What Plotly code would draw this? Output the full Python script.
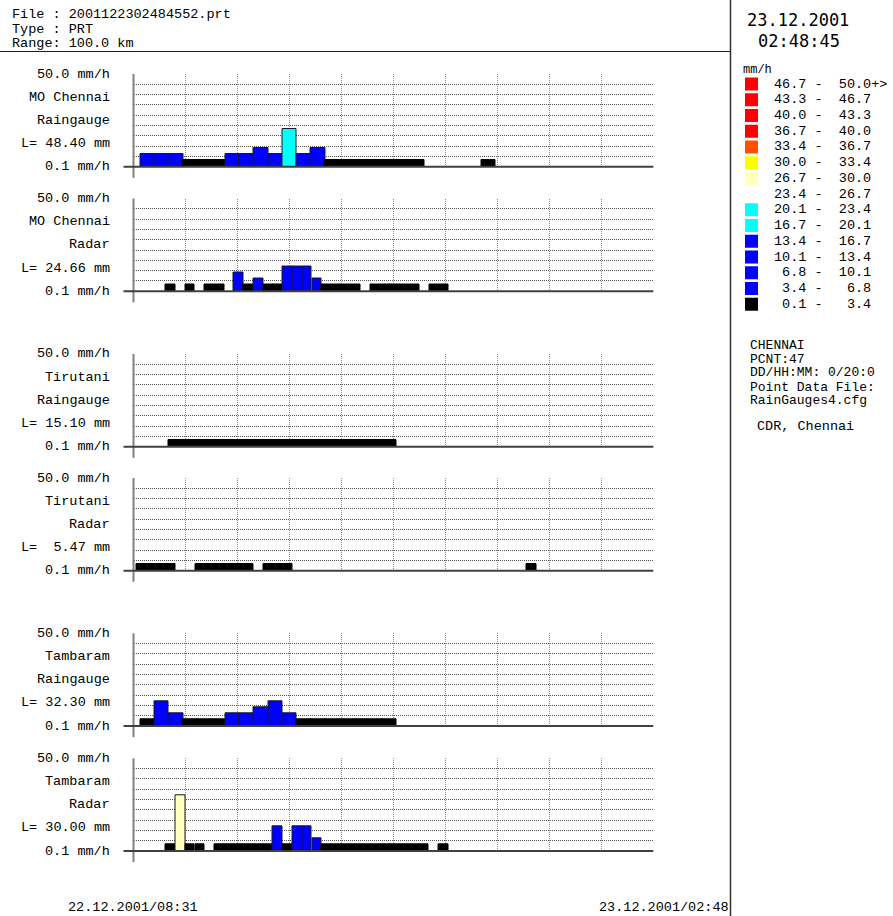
import pandas as pd
import plotly.graph_objects as go

W, H = 893, 916
DAY = "22.12.2001"
AXIS_START = "22.12.2001 08:31"
AXIS_END = "23.12.2001 02:48"
RG_STEP_MIN = 30
RADAR_STEP_MIN = 20

# Legend classes (mm/h), top to bottom
CLASS_LO = [46.7, 43.3, 40.0, 36.7, 33.4, 30.0, 26.7, 23.4, 20.1, 16.7, 13.4, 10.1, 6.8, 3.4, 0.1]
CLASS_HI = [50.0, 46.7, 43.3, 40.0, 36.7, 33.4, 30.0, 26.7, 23.4, 20.1, 16.7, 13.4, 10.1, 6.8, 3.4]
CLASS_COLORS = ["#FF0000", "#FF0000", "#FF0000", "#FF0000", "#FF5000", "#FFFF00", "#FFFFC0",
                "#FFFFFF", "#00FFFF", "#00FFFF", "#0000FF", "#0000FF", "#0000FF", "#0000FF", "#000000"]

PANEL_STATIONS = ["MO Chennai", "MO Chennai", "Tirutani", "Tirutani", "Tambaram", "Tambaram"]
PANEL_SOURCES = ["Raingauge", "Radar", "Raingauge", "Radar", "Raingauge", "Radar"]
PANEL_TOTALS_MM = [48.40, 24.66, 15.10, 5.47, 32.30, 30.00]

# Interval start times (22.12.2001) and intensities (mm/h)
mo_chennai_rg_times = ["08:45", "09:15", "09:45", "10:15", "10:45", "11:15", "11:45", "12:15", "12:45",
                       "13:15", "13:45", "14:15", "14:45", "15:15", "15:45", "16:15", "16:45", "17:15",
                       "17:45", "18:15", "20:45"]
mo_chennai_rg_values = [6.8, 6.8, 6.8, 3.4, 3.4, 3.4, 6.8, 6.8, 10.1, 6.8, 20.1, 6.8, 10.1,
                        3.4, 3.4, 3.4, 3.4, 3.4, 3.4, 3.4, 3.4]

mo_chennai_radar_times = ["09:39", "10:20", "11:01", "11:22", "12:03", "12:24", "12:44", "13:05", "13:25",
                          "13:46", "14:07", "14:27", "14:48", "15:08", "15:29", "15:49", "16:10", "16:51",
                          "17:12", "17:32", "17:53", "18:14", "18:55", "19:15"]
mo_chennai_radar_values = [3.4, 3.4, 3.4, 3.4, 10.1, 3.4, 6.8, 3.4, 3.4, 13.4, 13.4, 13.4, 6.8,
                           3.4, 3.4, 3.4, 3.4, 3.4, 3.4, 3.4, 3.4, 3.4, 3.4, 3.4]

tirutani_rg_times = ["09:45", "10:15", "10:45", "11:15", "11:45", "12:15", "12:45", "13:15", "13:45",
                     "14:15", "14:45", "15:15", "15:45", "16:15", "16:45", "17:15"]
tirutani_rg_values = [3.4] * 16

tirutani_radar_times = ["08:37", "08:58", "09:18", "09:39", "10:41", "11:01", "11:22", "11:42", "12:03",
                        "12:24", "13:05", "13:25", "13:46", "22:20"]
tirutani_radar_values = [3.4] * 14

tambaram_rg_times = ["08:45", "09:15", "09:45", "10:15", "10:45", "11:15", "11:45", "12:15", "12:45",
                     "13:15", "13:45", "14:15", "14:45", "15:15", "15:45", "16:15", "16:45", "17:15"]
tambaram_rg_values = [3.4, 13.4, 6.8, 3.4, 3.4, 3.4, 6.8, 6.8, 10.1, 13.4, 6.8,
                      3.4, 3.4, 3.4, 3.4, 3.4, 3.4, 3.4]

tambaram_radar_times = ["09:39", "10:00", "10:20", "10:41", "11:22", "11:42", "12:03", "12:24", "12:44",
                        "13:05", "13:25", "13:46", "14:07", "14:27", "14:48", "15:08", "15:29", "15:49",
                        "16:10", "16:31", "16:51", "17:12", "17:32", "17:53", "18:14", "18:34", "19:15"]
tambaram_radar_values = [3.4, 30.0, 3.4, 3.4, 3.4, 3.4, 3.4, 3.4, 3.4, 3.4, 13.4, 3.4, 13.4, 13.4, 6.8,
                         3.4, 3.4, 3.4, 3.4, 3.4, 3.4, 3.4, 3.4, 3.4, 3.4, 3.4, 3.4]

PANEL_DATA = [
    (mo_chennai_rg_times, mo_chennai_rg_values, RG_STEP_MIN),
    (mo_chennai_radar_times, mo_chennai_radar_values, RADAR_STEP_MIN),
    (tirutani_rg_times, tirutani_rg_values, RG_STEP_MIN),
    (tirutani_radar_times, tirutani_radar_values, RADAR_STEP_MIN),
    (tambaram_rg_times, tambaram_rg_values, RG_STEP_MIN),
    (tambaram_radar_times, tambaram_radar_values, RADAR_STEP_MIN),
]

FMT = "%d.%m.%Y %H:%M"
t_start = pd.to_datetime(AXIS_START, format=FMT)
t_end = pd.to_datetime(AXIS_END, format=FMT)
SPAN = (t_end - t_start).total_seconds() / 60.0


def to_min(hhmm):
    return (pd.to_datetime(f"{DAY} {hhmm}", format=FMT) - t_start).total_seconds() / 60.0


def class_color(v):
    for lo, hi, c in zip(CLASS_LO, CLASS_HI, CLASS_COLORS):
        if lo < v <= hi:
            return c
    return CLASS_COLORS[-1]


MONO = "Liberation Mono"
FS = 13.5
NB = "\u00a0"


def t(s):
    return s.replace(" ", NB)


# layout geometry (pixels)
X0, X1 = 133.5, 653.3
PANEL_TOPS = [74, 198.5, 354, 478, 633.3, 758.3]
PANEL_H = 92.8

fig = go.Figure()
layout = dict(width=W, height=H, margin=dict(l=0, r=0, t=0, b=0),
              paper_bgcolor="white", plot_bgcolor="white", showlegend=False,
              barmode="overlay", bargap=0)
shapes = []
annotations = []

for i, ((times, vals, step), stn, src, tot) in enumerate(
        zip(PANEL_DATA, PANEL_STATIONS, PANEL_SOURCES, PANEL_TOTALS_MM)):
    n = i + 1
    xa = "x" if n == 1 else f"x{n}"
    ya = "y" if n == 1 else f"y{n}"
    cols = [class_color(v) for v in vals]
    fig.add_trace(go.Bar(
        x=[to_min(tm) for tm in times], y=vals, width=[step + 0.6] * len(vals), offset=0,
        marker=dict(color=cols,
                    line=dict(color=["#000000" if c == "#000000" else "#1a1a1a" for c in cols],
                              width=1)),
        xaxis=xa, yaxis=ya, hoverinfo="skip"))
    top = PANEL_TOPS[i]
    dom_y = [1 - (top + PANEL_H) / H, 1 - top / H]
    layout["xaxis" if n == 1 else f"xaxis{n}"] = dict(
        domain=[X0 / W, X1 / W], range=[0, SPAN], anchor=ya,
        tickvals=[SPAN * k / 10 for k in range(1, 10)], showticklabels=False, ticks="",
        showgrid=True, gridcolor="#8c8c8c", griddash="1px,1px", gridwidth=1,
        zeroline=False, showline=False, fixedrange=True)
    layout["yaxis" if n == 1 else f"yaxis{n}"] = dict(
        domain=dom_y, range=[0, 50], anchor=xa,
        tickvals=[50 * k / 9 for k in range(1, 10)], showticklabels=False, ticks="",
        showgrid=True, gridcolor="#505050", griddash="1px,1px", gridwidth=1,
        zeroline=False, showline=False, fixedrange=True)
    xd, yd = f"{xa} domain", f"{ya} domain"
    shapes.append(dict(type="line", xref=xd, yref=yd, x0=0, x1=0, y0=-11 / PANEL_H, y1=1,
                       line=dict(color="#808080", width=2)))
    shapes.append(dict(type="line", xref=xd, yref=yd, x0=-10 / (X1 - X0), x1=1, y0=0, y1=0,
                       line=dict(color="#404040", width=2)))
    labels = ["50.0 mm/h", stn, src, f"L={tot:6.2f} mm", "0.1 mm/h"]
    for lab, yy in zip(labels, [1, 0.75, 0.5, 0.25, 0]):
        annotations.append(dict(text=t(lab), xref="paper", x=112 / W, xanchor="right",
                                yref=yd, y=yy, yanchor="middle", showarrow=False,
                                font=dict(family=MONO, size=FS, color="black")))

# legend squares via an auxiliary axis
ROW0, ROWSTEP = 84.0, 15.73
nrows = len(CLASS_LO)
leg_top = ROW0 - ROWSTEP / 2
leg_bot = ROW0 + (nrows - 0.5) * ROWSTEP
fig.add_trace(go.Scatter(
    x=[0.5] * nrows, y=list(range(nrows)), mode="markers",
    marker=dict(symbol="square", size=13, color=CLASS_COLORS, line=dict(width=0)),
    xaxis="x7", yaxis="y7", hoverinfo="skip"))
layout["xaxis7"] = dict(domain=[745 / W, 758 / W], range=[0, 1], visible=False, anchor="y7", fixedrange=True)
layout["yaxis7"] = dict(domain=[1 - leg_bot / H, 1 - leg_top / H], range=[nrows - 0.5, -0.5],
                        visible=False, anchor="x7", fixedrange=True)
for k, (lo, hi) in enumerate(zip(CLASS_LO, CLASS_HI)):
    s = f"{lo:4.1f} -  {hi:4.1f}" + ("+>" if k == 0 else "")
    annotations.append(dict(text=t(s), xref="paper", x=772 / W, xanchor="left",
                            yref="y7", y=k, yanchor="middle", showarrow=False,
                            font=dict(family=MONO, size=FS, color="black")))


def ptext(s, x, y, anchor="left", size=FS, family=MONO):
    annotations.append(dict(text=t(s), xref="paper", yref="paper", x=x / W, y=1 - y / H,
                            xanchor=anchor, yanchor="middle", showarrow=False,
                            font=dict(family=family, size=size, color="black")))


# header
ptext("File : 2001122302484552.prt", 10, 14.5)
ptext("Type : PRT", 10, 29)
ptext("Range: 100.0 km", 10, 43.5)
# date / time
ptext("23.12.2001", 745, 20, size=17, family="DejaVu Sans Mono")
ptext("02:48:45", 756, 41, size=17, family="DejaVu Sans Mono")
ptext("mm/h", 741, 70, size=12)
# right info block
for s, y in [("CHENNAI", 345.5), ("PCNT:47", 359.5), ("DD/HH:MM: 0/20:0", 373),
             ("Point Data File:", 387), ("RainGauges4.cfg", 400.5)]:
    ptext(s, 748, y, size=13)
ptext("CDR, Chennai", 755, 426.5)
# time labels
ptext(f"{AXIS_START.replace(' ', '/')}", 66, 907)
ptext(f"{AXIS_END.replace(' ', '/')}", 731, 907, anchor="right")

# frame lines
shapes.append(dict(type="line", xref="paper", yref="paper", x0=0, x1=730 / W,
                   y0=1 - 51.5 / H, y1=1 - 51.5 / H, line=dict(color="#202020", width=1.2)))
shapes.append(dict(type="line", xref="paper", yref="paper", x0=730.5 / W, x1=730.5 / W,
                   y0=0, y1=1, line=dict(color="#303030", width=1.5)))

layout["shapes"] = shapes
layout["annotations"] = annotations
fig.update_layout(**layout)
fig.write_html(
    "out.html",
    config={"displayModeBar": False},
    post_script="document.body.style.margin='0';document.body.style.padding='0';"
                "document.body.style.overflow='hidden';",
)
